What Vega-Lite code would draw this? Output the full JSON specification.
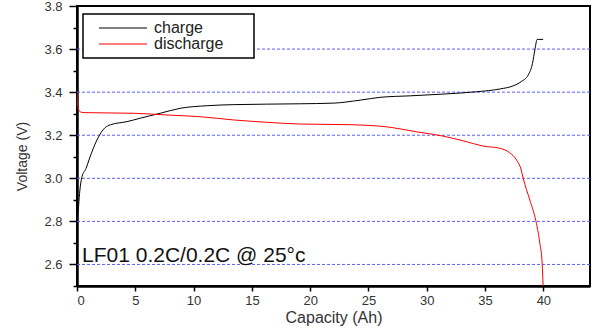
{
  "$schema": "https://vega.github.io/schema/vega-lite/v6.json",
  "autosize": "none",
  "width": 513,
  "height": 280,
  "padding": {"left": 77, "top": 6, "right": 4, "bottom": 43},
  "background": "white",
  "config": {
    "view": {"stroke": "black", "strokeWidth": 2},
    "font": "Liberation Sans",
    "legend": {"strokeWidth": 1.5},
    "axis": {
      "labelFont": "Liberation Sans",
      "titleFont": "Liberation Sans",
      "labelColor": "#333333",
      "titleColor": "#333333",
      "titleFontWeight": "normal",
      "domainColor": "black",
      "domainWidth": 2.5,
      "tickColor": "black",
      "tickWidth": 1.5,
      "labelOverlap": false
    }
  },
  "resolve": {"axis": {"y": "independent"}},
  "datasets": {
    "grid": [
      {"v": 2.6}, {"v": 2.8}, {"v": 3.0}, {"v": 3.2}, {"v": 3.4}, {"v": 3.6}
    ],
    "curves": [
      {"series": "charge", "cap": 0, "v": 2.8},
      {"series": "charge", "cap": 0.11, "v": 2.853},
      {"series": "charge", "cap": 0.22, "v": 2.93},
      {"series": "charge", "cap": 0.43, "v": 3.008},
      {"series": "charge", "cap": 0.77, "v": 3.045},
      {"series": "charge", "cap": 1.06, "v": 3.09},
      {"series": "charge", "cap": 1.71, "v": 3.178},
      {"series": "charge", "cap": 2.4, "v": 3.235},
      {"series": "charge", "cap": 2.85, "v": 3.248},
      {"series": "charge", "cap": 4.28, "v": 3.263},
      {"series": "charge", "cap": 5.42, "v": 3.279},
      {"series": "charge", "cap": 7.14, "v": 3.302},
      {"series": "charge", "cap": 8.85, "v": 3.325},
      {"series": "charge", "cap": 11.14, "v": 3.337},
      {"series": "charge", "cap": 13.4, "v": 3.342},
      {"series": "charge", "cap": 19.1, "v": 3.346},
      {"series": "charge", "cap": 22.0, "v": 3.349},
      {"series": "charge", "cap": 24.3, "v": 3.363},
      {"series": "charge", "cap": 26.0, "v": 3.376},
      {"series": "charge", "cap": 28.6, "v": 3.383},
      {"series": "charge", "cap": 31.4, "v": 3.391},
      {"series": "charge", "cap": 34.3, "v": 3.402},
      {"series": "charge", "cap": 36.3, "v": 3.415},
      {"series": "charge", "cap": 37.4, "v": 3.429},
      {"series": "charge", "cap": 38.1, "v": 3.449},
      {"series": "charge", "cap": 38.7, "v": 3.48},
      {"series": "charge", "cap": 39.07, "v": 3.534},
      {"series": "charge", "cap": 39.27, "v": 3.596},
      {"series": "charge", "cap": 39.47, "v": 3.645},
      {"series": "charge", "cap": 39.98, "v": 3.645},
      {"series": "discharge", "cap": 0, "v": 3.4},
      {"series": "discharge", "cap": 0.03, "v": 3.36},
      {"series": "discharge", "cap": 0.1, "v": 3.325},
      {"series": "discharge", "cap": 0.3, "v": 3.308},
      {"series": "discharge", "cap": 0.6, "v": 3.305},
      {"series": "discharge", "cap": 4.85, "v": 3.302},
      {"series": "discharge", "cap": 7.71, "v": 3.294},
      {"series": "discharge", "cap": 10.57, "v": 3.286},
      {"series": "discharge", "cap": 13.42, "v": 3.271},
      {"series": "discharge", "cap": 16.28, "v": 3.26},
      {"series": "discharge", "cap": 19.1, "v": 3.252},
      {"series": "discharge", "cap": 23.4, "v": 3.249},
      {"series": "discharge", "cap": 26.85, "v": 3.237},
      {"series": "discharge", "cap": 29.1, "v": 3.216},
      {"series": "discharge", "cap": 31.4, "v": 3.196},
      {"series": "discharge", "cap": 33.4, "v": 3.17},
      {"series": "discharge", "cap": 34.8, "v": 3.15},
      {"series": "discharge", "cap": 36.3, "v": 3.139},
      {"series": "discharge", "cap": 37.1, "v": 3.119},
      {"series": "discharge", "cap": 37.7, "v": 3.085},
      {"series": "discharge", "cap": 38.1, "v": 3.039},
      {"series": "discharge", "cap": 38.27, "v": 3.0},
      {"series": "discharge", "cap": 38.84, "v": 2.899},
      {"series": "discharge", "cap": 39.36, "v": 2.802},
      {"series": "discharge", "cap": 39.7, "v": 2.698},
      {"series": "discharge", "cap": 39.9, "v": 2.602},
      {"series": "discharge", "cap": 39.98, "v": 2.5}
    ],
    "note": [
      {"cap": 0.43, "v": 2.612, "label": "LF01 0.2C/0.2C @ 25°c"}
    ]
  },
  "layer": [
    {
      "data": {"name": "grid"},
      "mark": {"type": "rule", "color": "#5c5cff", "strokeWidth": 1, "strokeDash": [3, 2]},
      "encoding": {
        "y": {
          "field": "v", "type": "quantitative",
          "scale": {"domain": [2.5, 3.8], "nice": false, "zero": false},
          "axis": {
            "orient": "left",
            "title": null,
            "values": [2.5, 2.7, 2.9, 3.1, 3.3, 3.5, 3.7],
            "labels": false,
            "domain": false,
            "grid": false,
            "tickSize": 4
          }
        }
      }
    },
    {
      "data": {"name": "curves"},
      "mark": {"type": "line", "interpolate": "monotone", "strokeWidth": 1, "clip": true},
      "encoding": {
        "x": {
          "field": "cap", "type": "quantitative",
          "scale": {"domain": [0, 44], "nice": false, "zero": false},
          "axis": {
            "title": "Capacity (Ah)",
            "titleFontSize": 16,
            "titleBaseline": "alphabetic",
            "titleY": 36,
            "values": [0, 2.5, 5, 7.5, 10, 12.5, 15, 17.5, 20, 22.5, 25, 27.5, 30, 32.5, 35, 37.5, 40, 42.5],
            "format": "d",
            "labelExpr": "datum.value % 5 == 0 ? datum.label : ''",
            "labelFontSize": 13,
            "labelPadding": 3,
            "tickSize": {"condition": {"test": "datum.value % 5 == 0", "value": 5}, "value": 3},
            "grid": false
          }
        },
        "y": {
          "field": "v", "type": "quantitative",
          "scale": {"domain": [2.5, 3.8], "nice": false, "zero": false},
          "axis": {
            "orient": "left",
            "title": "Voltage (V)",
            "titleFontSize": 14,
            "titleBaseline": "alphabetic",
            "titleX": -51,
            "titleY": 150,
            "values": [2.6, 2.8, 3.0, 3.2, 3.4, 3.6, 3.8],
            "format": ".1f",
            "labelFontSize": 13,
            "labelPadding": 7,
            "tickSize": 8,
            "grid": false
          }
        },
        "color": {
          "field": "series", "type": "nominal",
          "scale": {"domain": ["charge", "discharge"], "range": ["#000000", "#ff0000"]},
          "legend": {
            "title": null,
            "orient": "none",
            "legendX": 6,
            "legendY": 8,
            "padding": 6,
            "fillColor": "white",
            "strokeColor": "black",
            "symbolType": "M-3.2,0H3.2",
            "symbolSize": 225,
            "symbolStrokeWidth": 1,
            "symbolOffset": 26,
            "labelOffset": 23,
            "rowPadding": 0,
            "labelFont": "Liberation Sans",
            "labelFontSize": 16,
            "labelColor": "#222222",
            "labelExpr": "datum.label + '\u2800\u2800'"
          }
        }
      }
    },
    {
      "data": {"name": "note"},
      "mark": {"type": "text", "align": "left", "baseline": "alphabetic", "fontSize": 21, "font": "Liberation Sans", "color": "#111111"},
      "encoding": {
        "x": {"field": "cap", "type": "quantitative"},
        "y": {"field": "v", "type": "quantitative", "axis": null},
        "text": {"field": "label"}
      }
    }
  ]
}
